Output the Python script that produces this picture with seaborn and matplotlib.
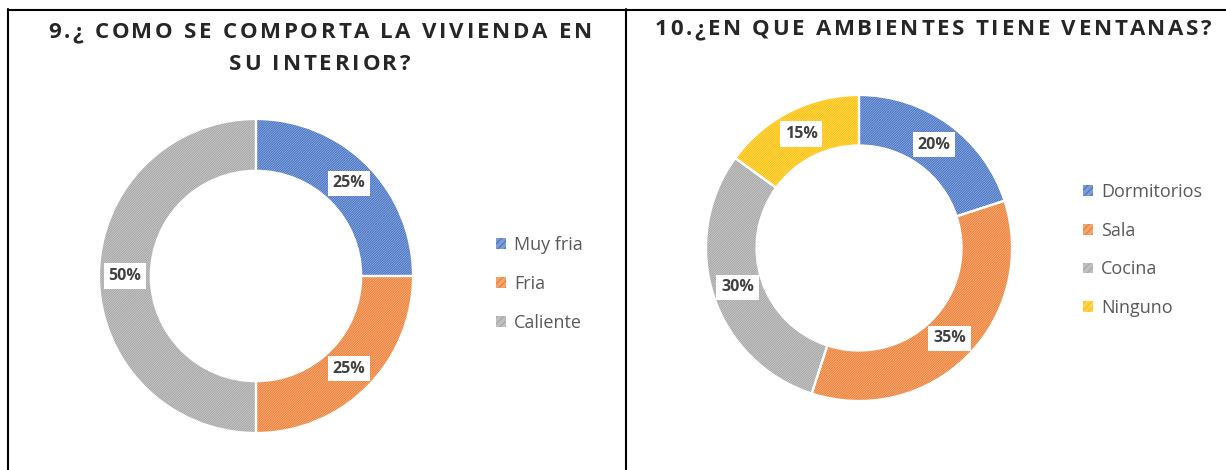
import numpy as np
import seaborn as sns
import matplotlib
import matplotlib.pyplot as plt
from matplotlib.lines import Line2D
from matplotlib.patches import Patch
from matplotlib.colors import to_rgb

# question 9
q9_labels = ["Muy fria", "Fria", "Caliente"]
q9_values = [25, 25, 50]

# question 10
q10_labels = ["Dormitorios", "Sala", "Cocina", "Ninguno"]
q10_values = [20, 35, 30, 15]

q9_title = ["9.¿ COMO SE COMPORTA LA VIVIENDA EN", "SU INTERIOR?"]
q10_title = ["10.¿EN QUE AMBIENTES TIENE VENTANAS?"]

palette = ["#4472C4", "#ED7D31", "#A5A5A5", "#FFC000"]

sns.set_style("white")
plt.rcParams["font.family"] = ["Open Sans", "DejaVu Sans"]
plt.rcParams["hatch.linewidth"] = 0.8

W, H = 1226, 470
fig = plt.figure(figsize=(W / 100, H / 100), dpi=100)
renderer = fig.canvas.get_renderer()
title_kw = dict(fontsize=16, fontweight="bold", color="#262626")


def lighten(c, amt=0.55):
    r, g, b = to_rgb(c)
    return (r + (1 - r) * amt, g + (1 - g) * amt, b + (1 - b) * amt)


def text_width(s):
    t = fig.text(0, 0, s, **title_kw)
    w = t.get_window_extent(renderer).width
    t.remove()
    return w


def tracked_title(lines, x_center, baselines, first_width):
    # spread letters out like the wide-tracked Excel titles
    natural = text_width(lines[0])
    gap = (first_width - natural) / (len(lines[0]) - 1)
    xw = text_width("X")
    for line, base in zip(lines, baselines):
        total = text_width(line) + gap * (len(line) - 1)
        left = x_center - total / 2
        for i, ch in enumerate(line):
            if ch == " ":
                continue
            adv = text_width(line[:i] + "X") - xw if i else 0
            fig.text((left + adv + gap * i) / W, 1 - base / H, ch,
                     ha="left", va="baseline", **title_kw)


def donut(cx, cy, r, values, labels, colors, legend_xy):
    ax = fig.add_axes([(cx - r) / W, (H - cy - r) / H, 2 * r / W, 2 * r / H])
    kw = dict(startangle=90, counterclock=False, radius=1)
    light = [lighten(c) for c in colors]
    wedges, _, autotexts = ax.pie(
        values, colors=light, autopct="%.0f%%", pctdistance=0.835,
        wedgeprops=dict(width=0.33, linewidth=0), **kw,
        textprops=dict(fontsize=11.5, fontweight="bold", color="#404040"),
    )
    hatched, _ = ax.pie(values, colors=["none"] * len(values),
                        wedgeprops=dict(width=0.33, linewidth=0), **kw)
    for w, c in zip(hatched, colors):
        w.set_edgecolor(c)
        w.set_hatch("//////////////")
    ax.pie(values, colors=["none"] * len(values),
           wedgeprops=dict(width=0.33, linewidth=1.6, edgecolor="white"), **kw)
    for t in autotexts:
        t.set_bbox(dict(facecolor="white", edgecolor="none", pad=3.5))
        t.set_zorder(10)
    ax.set_xlim(-1, 1)
    ax.set_ylim(-1, 1)
    ax.set_aspect("equal")
    ax.axis("off")

    handles = [Patch(facecolor=lighten(c, 0.3), edgecolor=c, hatch="/////", linewidth=0)
               for c in colors]
    fig.legend(handles, labels, loc="center left",
               bbox_to_anchor=(legend_xy[0] / W, 1 - legend_xy[1] / H),
               frameon=False, fontsize=13, labelcolor="#595959",
               handlelength=0.55, handleheight=0.55, handletextpad=0.45,
               labelspacing=1.15, borderpad=0, borderaxespad=0)


donut(256, 276, 157, q9_values, q9_labels, palette[:3], (496, 284))
donut(859, 248, 153, q10_values, q10_labels, palette, (1083, 250))

tracked_title(q9_title, 320, [38, 70], 544)
tracked_title(q10_title, 933, [35], 557)

# frame lines
lw = 1.5
fig.add_artist(Line2D([8 / W, 8 / W], [0, 1 - 9 / H], color="black", lw=lw))
fig.add_artist(Line2D([626 / W, 626 / W], [0, 1 - 9 / H], color="black", lw=lw))
fig.add_artist(Line2D([8 / W, 1], [1 - 10 / H, 1 - 10 / H], color="black", lw=lw))

fig.savefig("out.png", dpi=100)
